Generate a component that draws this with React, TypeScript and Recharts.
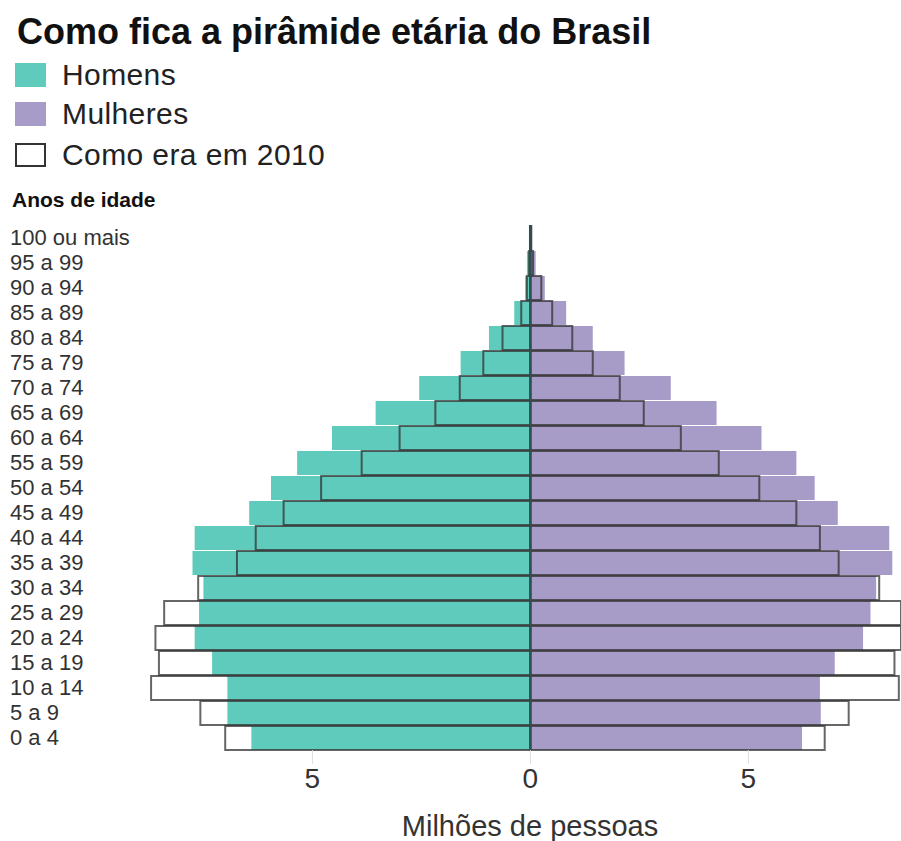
import React from "react";
import { BarChart, Bar, XAxis, YAxis, ReferenceLine } from "recharts";

// age groups, top of the pyramid first
const ageGroups = [
  "100 ou mais", "95 a 99", "90 a 94", "85 a 89", "80 a 84", "75 a 79", "70 a 74",
  "65 a 69", "60 a 64", "55 a 59", "50 a 54", "45 a 49", "40 a 44", "35 a 39",
  "30 a 34", "25 a 29", "20 a 24", "15 a 19", "10 a 14", "5 a 9", "0 a 4",
];

// millions of people
const menNow = [0.03, 0.08, 0.12, 0.37, 0.95, 1.6, 2.55, 3.55, 4.55, 5.35, 5.95, 6.45, 7.7, 7.75, 7.5, 7.6, 7.7, 7.3, 6.95, 6.95, 6.4];
const womenNow = [0.04, 0.12, 0.33, 0.82, 1.43, 2.16, 3.22, 4.27, 5.3, 6.1, 6.52, 7.05, 8.23, 8.3, 7.93, 7.8, 7.63, 6.98, 6.64, 6.66, 6.23];
const men2010 = [0.01, 0.03, 0.08, 0.21, 0.64, 1.08, 1.62, 2.18, 3.0, 3.87, 4.8, 5.66, 6.3, 6.73, 7.62, 8.4, 8.6, 8.52, 8.7, 7.57, 7.0];
const women2010 = [0.02, 0.06, 0.25, 0.5, 0.96, 1.43, 2.05, 2.6, 3.45, 4.32, 5.25, 6.1, 6.64, 7.07, 8.0, 8.6, 8.8, 8.35, 8.45, 7.3, 6.75];

const xTicks = [-5, 0, 5];

const TEAL = "#5ecbbc";
const PURPLE = "#a79bc8";
const OUTLINE = "#333";
const FONT = "'Liberation Sans', Arial, sans-serif";

const rows = ageGroups.map((age, i) => ({
  age,
  menNow: -menNow[i],
  womenNow: womenNow[i],
  men2010: -men2010[i],
  women2010: women2010[i],
}));

const AgeTick = ({ y, payload }: any) => (
  <text x={10} y={y} dy="0.36em" textAnchor="start" fontSize={22} fill="#333" fontFamily={FONT}>
    {payload.value}
  </text>
);

const legendItems = [
  { label: "Homens", fill: TEAL, border: "none", top: 63 },
  { label: "Mulheres", fill: PURPLE, border: "none", top: 102 },
  { label: "Como era em 2010", fill: "#fff", border: "2px solid #333", top: 143 },
];

export default function App() {
  return (
    <div style={{ position: "relative", width: 901, height: 841, fontFamily: FONT, background: "#fff", overflow: "hidden" }}>
      <style>{`body{margin:0;overflow:hidden}`}</style>
      <div style={{ position: "absolute", left: 17, top: 14, fontSize: 36, fontWeight: "bold", color: "#111", whiteSpace: "nowrap", lineHeight: 1 }}>
        Como fica a pirâmide etária do Brasil
      </div>
      {legendItems.map((it) => (
        <div key={it.label} style={{ position: "absolute", left: 15, top: it.top, height: 24, display: "flex", alignItems: "center" }}>
          <div style={{ width: 31, height: 24, background: it.fill, border: it.border, boxSizing: "border-box" }} />
          <span style={{ marginLeft: 16, fontSize: 30, letterSpacing: 0.4, color: "#222", whiteSpace: "nowrap" }}>{it.label}</span>
        </div>
      ))}
      <div style={{ position: "absolute", left: 12, top: 189, fontSize: 21, fontWeight: "bold", color: "#111", lineHeight: 1 }}>
        Anos de idade
      </div>
      <div style={{ position: "absolute", left: 0, top: 0 }}>
        <BarChart
          width={901}
          height={841}
          data={rows}
          layout="vertical"
          stackOffset="sign"
          barGap={-24}
          barCategoryGap={0}
          margin={{ top: 225, right: 0, bottom: 51, left: 0 }}
        >
          <XAxis
            type="number"
            domain={[-9, 8.5]}
            allowDataOverflow
            ticks={xTicks}
            tickFormatter={(v: number) => String(Math.abs(v))}
            axisLine={false}
            tickSize={14}
            tickMargin={4}
            tickLine={{ stroke: "#ddd" }}
            tick={{ fontSize: 28, fill: "#333", fontFamily: FONT }}
            height={40}
          />
          <YAxis type="category" dataKey="age" width={138} axisLine={false} tickLine={false} tick={<AgeTick />} interval={0} />
          <Bar dataKey="menNow" stackId="now" fill={TEAL} barSize={24} isAnimationActive={false} />
          <Bar dataKey="womenNow" stackId="now" fill={PURPLE} barSize={24} isAnimationActive={false} />
          <Bar dataKey="men2010" stackId="old" fill="none" stroke={OUTLINE} strokeOpacity={0.75} strokeWidth={2} barSize={24} isAnimationActive={false} />
          <Bar dataKey="women2010" stackId="old" fill="none" stroke={OUTLINE} strokeOpacity={0.75} strokeWidth={2} barSize={24} isAnimationActive={false} />
          <ReferenceLine x={0} stroke="#2f4f50" strokeWidth={2} />
        </BarChart>
      </div>
      <div style={{ position: "absolute", left: 0, width: 1060, top: 812, textAlign: "center", fontSize: 29, color: "#333", lineHeight: 1 }}>
        Milhões de pessoas
      </div>
    </div>
  );
}
